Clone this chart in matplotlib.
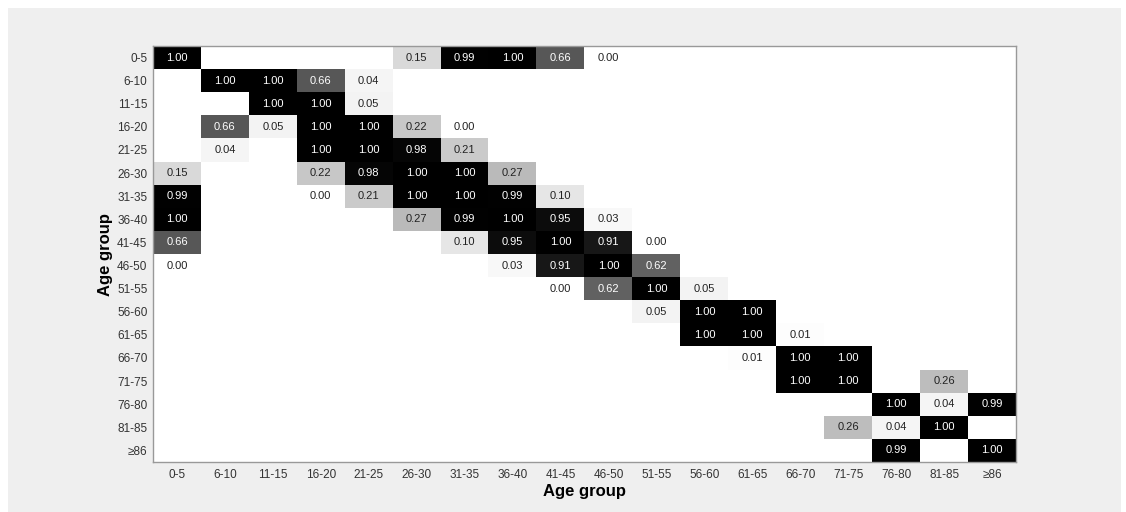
import numpy as np
import matplotlib.pyplot as plt
from matplotlib.patches import Rectangle

plt.rcParams['font.family'] = ['Liberation Sans', 'DejaVu Sans']

# Age group labels (rows and columns)
groups = ["0-5", "6-10", "11-15", "16-20", "21-25", "26-30", "31-35", "36-40",
          "41-45", "46-50", "51-55", "56-60", "61-65", "66-70", "71-75",
          "76-80", "81-85", "≥86"]

# Non-empty cells as (row, col, value)
row_idx = [0, 0, 0, 0, 0, 0,
           1, 1, 1, 1,
           2, 2, 2,
           3, 3, 3, 3, 3, 3,
           4, 4, 4, 4, 4,
           5, 5, 5, 5, 5, 5,
           6, 6, 6, 6, 6, 6, 6,
           7, 7, 7, 7, 7, 7,
           8, 8, 8, 8, 8, 8,
           9, 9, 9, 9, 9,
           10, 10, 10, 10,
           11, 11, 11,
           12, 12, 12,
           13, 13, 13,
           14, 14, 14,
           15, 15, 15,
           16, 16, 16,
           17, 17]
col_idx = [0, 5, 6, 7, 8, 9,
           1, 2, 3, 4,
           2, 3, 4,
           1, 2, 3, 4, 5, 6,
           1, 3, 4, 5, 6,
           0, 3, 4, 5, 6, 7,
           0, 3, 4, 5, 6, 7, 8,
           0, 5, 6, 7, 8, 9,
           0, 6, 7, 8, 9, 10,
           0, 7, 8, 9, 10,
           8, 9, 10, 11,
           10, 11, 12,
           11, 12, 13,
           12, 13, 14,
           13, 14, 16,
           15, 16, 17,
           14, 15, 16,
           15, 17]
values = [1.00, 0.15, 0.99, 1.00, 0.66, 0.00,
          1.00, 1.00, 0.66, 0.04,
          1.00, 1.00, 0.05,
          0.66, 0.05, 1.00, 1.00, 0.22, 0.00,
          0.04, 1.00, 1.00, 0.98, 0.21,
          0.15, 0.22, 0.98, 1.00, 1.00, 0.27,
          0.99, 0.00, 0.21, 1.00, 1.00, 0.99, 0.10,
          1.00, 0.27, 0.99, 1.00, 0.95, 0.03,
          0.66, 0.10, 0.95, 1.00, 0.91, 0.00,
          0.00, 0.03, 0.91, 1.00, 0.62,
          0.00, 0.62, 1.00, 0.05,
          0.05, 1.00, 1.00,
          1.00, 1.00, 0.01,
          0.01, 1.00, 1.00,
          1.00, 1.00, 0.26,
          1.00, 0.04, 0.99,
          0.26, 0.04, 1.00,
          0.99, 1.00]

n = len(groups)
mat = np.full((n, n), np.nan)
for r, c, v in zip(row_idx, col_idx, values):
    mat[r, c] = v

fig = plt.figure(figsize=(11.26, 5.12), dpi=100)
fig.patch.set_facecolor('white')
# light grey panel behind the chart
fig.patches.append(Rectangle((8 / 1126, 0), 1113 / 1126, 504 / 512,
                             transform=fig.transFigure, facecolor='#efefef',
                             edgecolor='none', zorder=-10))

ax = fig.add_axes([153 / 1126, 50 / 512, 863 / 1126, 416 / 512])
ax.set_zorder(1)
ax.set_facecolor('white')
ax.imshow(np.ma.masked_invalid(mat), cmap='gray_r', vmin=0, vmax=1,
          aspect='auto', interpolation='nearest')

for r, c, v in zip(row_idx, col_idx, values):
    ax.text(c, r, f"{v:.2f}", ha='center', va='center', fontsize=8,
            color='white' if v > 0.5 else '#222222')

ax.set_xticks(range(n))
ax.set_xticklabels(groups, fontsize=8.5, color='#333333')
ax.set_yticks(range(n))
ax.set_yticklabels(groups, fontsize=8.5, color='#333333')
ax.tick_params(axis='x', length=0, pad=5)
ax.tick_params(axis='y', length=0, pad=4)
ax.set_xlabel("Age group", fontsize=12, fontweight='bold', labelpad=2)
ax.set_ylabel("Age group", fontsize=12, fontweight='bold', labelpad=3)

for s in ax.spines.values():
    s.set_color('#999999')
    s.set_linewidth(1)

fig.savefig("out.png", dpi=100, facecolor=fig.get_facecolor())
